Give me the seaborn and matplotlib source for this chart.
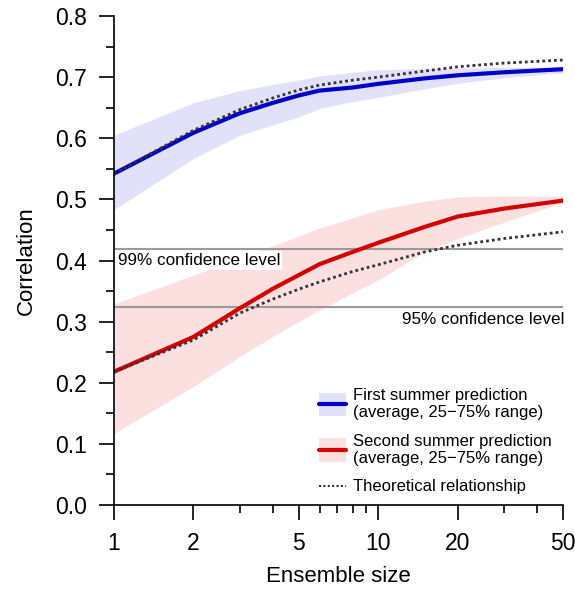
"""
Correlation vs ensemble size, first and second summer predictions
"""

import numpy as np
import pandas as pd
import matplotlib
matplotlib.use("Agg")
import matplotlib.pyplot as plt
import matplotlib.patches as mpatches
from matplotlib.lines import Line2D
from matplotlib.legend_handler import HandlerTuple, HandlerPatch
from matplotlib.ticker import FixedLocator, NullFormatter
import seaborn as sns

# Data
ens_size = [1, 2, 3, 4, 5, 6, 8, 10, 15, 20, 30, 50]

first_mean = [0.542, 0.609, 0.641, 0.658, 0.670, 0.678, 0.683, 0.689, 0.698, 0.703, 0.708, 0.713]
first_lo = [0.483, 0.567, 0.605, 0.622, 0.635, 0.649, 0.660, 0.667, 0.681, 0.690, 0.699, 0.707]
first_hi = [0.605, 0.658, 0.678, 0.688, 0.695, 0.702, 0.708, 0.712, 0.714, 0.715, 0.716, 0.717]
first_theory = [0.542, 0.613, 0.647, 0.666, 0.679, 0.687, 0.695, 0.700, 0.710, 0.717, 0.723, 0.728]

second_mean = [0.218, 0.275, 0.322, 0.354, 0.376, 0.394, 0.414, 0.429, 0.455, 0.472, 0.485, 0.498]
second_lo = [0.117, 0.194, 0.243, 0.276, 0.300, 0.319, 0.347, 0.368, 0.414, 0.436, 0.463, 0.495]
second_hi = [0.329, 0.376, 0.405, 0.424, 0.440, 0.453, 0.470, 0.483, 0.497, 0.504, 0.506, 0.505]
second_theory = [0.218, 0.270, 0.314, 0.337, 0.353, 0.365, 0.382, 0.393, 0.414, 0.425, 0.436, 0.447]

conf_99 = 0.419
conf_95 = 0.324

labels = [
    "First summer prediction\n(average, 25\u221275% range)",
    "Second summer prediction\n(average, 25\u221275% range)",
    "Theoretical relationship",
]

blue, blue_band = "#0000c8", "#e1e1f9"
red, red_band = "#d20000", "#fce0e0"

df = pd.DataFrame(
    {
        "n": ens_size * 2,
        "mean": first_mean + second_mean,
        "theory": first_theory + second_theory,
        "season": ["first"] * len(ens_size) + ["second"] * len(ens_size),
    }
)

sns.set_style("ticks")
plt.rcParams["font.family"] = ["Liberation Sans", "DejaVu Sans"]
for k in ["text.color", "axes.labelcolor", "xtick.color", "ytick.color", "axes.edgecolor"]:
    plt.rcParams[k] = "black"

fig = plt.figure(figsize=(5.75, 5.89), dpi=100)
ax = fig.add_axes([0.198, 0.1426, 0.781, 0.8302])

ax.fill_between(ens_size, first_lo, first_hi, color=blue_band, lw=0, zorder=1)
ax.fill_between(ens_size, second_lo, second_hi, color=red_band, lw=0, zorder=1)

ax.axhline(conf_99, color="#9a9a9a", lw=1.5, zorder=2)
ax.axhline(conf_95, color="#9a9a9a", lw=1.5, zorder=2)

sns.lineplot(
    data=df, x="n", y="mean", hue="season",
    palette={"first": blue, "second": red},
    lw=3, legend=False, ax=ax, zorder=3,
)
sns.lineplot(
    data=df, x="n", y="theory", units="season", estimator=None,
    color="#333333", lw=2, dashes=False, legend=False, ax=ax, zorder=4,
)
for l in ax.lines[-2:]:
    l.set_linestyle((0, (1, 1.1)))

ax.text(1.035, conf_99 - 0.007, "99% confidence level", fontsize=12.3,
        va="top", ha="left", zorder=5,
        bbox=dict(facecolor="white", edgecolor="none", pad=1.2))
ax.text(50.6, conf_95 - 0.009, "95% confidence level", fontsize=12.3,
        va="top", ha="right", zorder=5)

ax.set_xscale("log")
ax.set_xlim(1, 50)
ax.set_ylim(0, 0.8)
ax.xaxis.set_major_locator(FixedLocator([1, 2, 5, 10, 20, 50]))
ax.xaxis.set_minor_locator(FixedLocator([3, 4, 6, 7, 8, 9, 30, 40]))
ax.xaxis.set_minor_formatter(NullFormatter())
ax.set_xticklabels(["1", "2", "5", "10", "20", "50"])
ax.set_yticks(np.arange(0, 0.81, 0.1))
ax.set_yticks(np.arange(0.05, 0.8, 0.1), minor=True)
ax.set_yticklabels(["%.1f" % v for v in np.arange(0, 0.81, 0.1)])

ax.tick_params(which="major", length=10.5, width=1.2, labelsize=16.5, direction="out", pad=9)
ax.tick_params(which="minor", length=5.5, width=1.2, direction="out")
for s in ["top", "right"]:
    ax.spines[s].set_visible(False)
for s in ["left", "bottom"]:
    ax.spines[s].set_linewidth(1.2)
    ax.spines[s].set_zorder(10)

ax.set_xlabel("Ensemble size", fontsize=16, labelpad=8)
ax.set_ylabel("Correlation", fontsize=16, labelpad=13)


def tall_patch(legend, orig_handle, xdescent, ydescent, width, height, fontsize):
    extra = 0.35 * fontsize
    return mpatches.Rectangle((-xdescent, -ydescent - extra), width, height + 2 * extra)


h1 = (mpatches.Patch(color=blue_band, lw=0), Line2D([], [], color=blue, lw=3))
h2 = (mpatches.Patch(color=red_band, lw=0), Line2D([], [], color=red, lw=3))
h3 = Line2D([], [], color="#333333", lw=1.5, linestyle=(0, (1, 1.1)))
leg = ax.legend(
    [h1, h2, h3], labels, loc="lower right", bbox_to_anchor=(1.009, -0.009),
    frameon=False, fontsize=12, handlelength=1.62, handletextpad=0.42,
    labelspacing=0.8,
    handler_map={tuple: HandlerTuple(ndivide=1, pad=0),
                 mpatches.Patch: HandlerPatch(patch_func=tall_patch)},
)

fig.savefig("out.png", dpi=100)
